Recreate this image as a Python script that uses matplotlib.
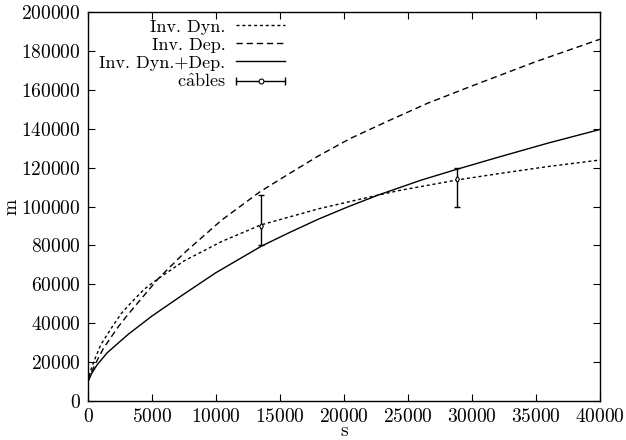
#!/usr/bin/env python3
"""Gnuplot-style comparison of m(s) for the three inversions plus cable measurements."""
import matplotlib

matplotlib.use("Agg")
import matplotlib.pyplot as plt
from matplotlib.legend_handler import HandlerLine2D, HandlerTuple
from matplotlib.lines import Line2D

plt.rcParams.update(
    {
        "font.family": ["cmr10", "DejaVu Serif"],
        "mathtext.fontset": "cm",
        "axes.formatter.use_mathtext": True,
        "font.size": 13,
        "axes.linewidth": 1.0,
        "xtick.direction": "in",
        "ytick.direction": "in",
        "xtick.top": True,
        "ytick.right": True,
        "xtick.major.size": 5,
        "ytick.major.size": 5,
    }
)

# --- data --------------------------------------------------------------
S_DYN = [0, 200, 440, 1000, 1875, 2600, 3360, 4400, 5500, 7500, 10440, 13500,
         18000, 22680, 24375, 28800, 32190, 36000, 40000]
M_DYN = [10000, 15500, 20000, 29000, 38000, 45000, 50500, 57500, 63000, 72000,
         82000, 90500, 98800, 105900, 108300, 113600, 117000, 120600, 123900]

S_DEP = [0, 250, 570, 1200, 2290, 3000, 3960, 5500, 7500, 10440, 13440, 15500,
         18000, 20500, 23590, 26500, 30000, 35000, 40000]
M_DEP = [10000, 14500, 19000, 27000, 37500, 43500, 51000, 63000, 76000, 93000,
         107600, 116000, 126000, 135000, 144400, 153000, 162000, 174500, 186000]

S_BOTH = [0, 300, 700, 1500, 3125, 5000, 7500, 10000, 13570, 15700, 18000,
          20300, 22680, 26000, 28800, 32190, 36000, 40000]
M_BOTH = [10000, 14300, 18500, 24800, 34200, 43700, 55000, 66000, 79700, 86500,
          93500, 99800, 105900, 113500, 119100, 125600, 132700, 139600]

S_CABLE = [13500, 28800]
M_CABLE = [90000, 114000]
M_CABLE_LOW = [80000, 100000]
M_CABLE_HIGH = [106000, 120000]

X_TICKS = [0, 5000, 10000, 15000, 20000, 25000, 30000, 35000, 40000]
Y_TICKS = [0, 20000, 40000, 60000, 80000, 100000, 120000, 140000, 160000,
           180000, 200000]

fig = plt.figure(figsize=(6.26, 4.40), dpi=100)
ax = fig.add_axes([88 / 626, 39 / 440, 512 / 626, 389 / 440])

(l_dyn,) = ax.plot(S_DYN, M_DYN, color="black", lw=1.0, dashes=(2.2, 2.0))
(l_dep,) = ax.plot(S_DEP, M_DEP, color="black", lw=1.0, dashes=(4.5, 2.8))
(l_both,) = ax.plot(S_BOTH, M_BOTH, color="black", lw=1.0)

yerr = [
    [m - lo for m, lo in zip(M_CABLE, M_CABLE_LOW)],
    [hi - m for m, hi in zip(M_CABLE, M_CABLE_HIGH)],
]
ax.errorbar(S_CABLE, M_CABLE, yerr=yerr, fmt="none", ecolor="black",
            elinewidth=1.0, capsize=2.3, capthick=1.0)
ax.plot(S_CABLE, M_CABLE, ls="none", marker="d", ms=3.2, mfc="white",
        mec="black", mew=0.8)

ax.set_xlim(0, 40000)
ax.set_ylim(0, 200000)
ax.set_xticks(X_TICKS)
ax.set_yticks(Y_TICKS)
ax.tick_params(labelsize=14, pad=5)

ax.set_xlabel("s", fontsize=14, labelpad=-3)
ax.set_ylabel("m", fontsize=14, labelpad=1)

# gnuplot-like key entry for the error bars: horizontal bar with end ticks
bar = Line2D([], [], color="black", lw=1.0, marker="|", ms=6, mew=1.0)
dot = Line2D([], [], ls="none", marker="o", ms=3.5, mfc="white", mec="black",
             mew=0.8)
ax.legend(
    [l_dyn, l_dep, l_both, (bar, dot)],
    ["Inv. Dyn.", "Inv. Dep.", "Inv. Dyn.+Dep.", r"c$\hat{\mathrm{a}}$bles"],
    handler_map={
        bar: HandlerLine2D(numpoints=2, marker_pad=0),
        dot: HandlerLine2D(numpoints=1),
        tuple: HandlerTuple(ndivide=1),
    },
    loc="upper right",
    bbox_to_anchor=(0.385, 0.982),
    frameon=False,
    markerfirst=False,
    handlelength=2.7,
    handletextpad=0.6,
    labelspacing=0.13,
    borderpad=0,
    borderaxespad=0,
    fontsize=13,
)

fig.savefig("out.png", dpi=100)
